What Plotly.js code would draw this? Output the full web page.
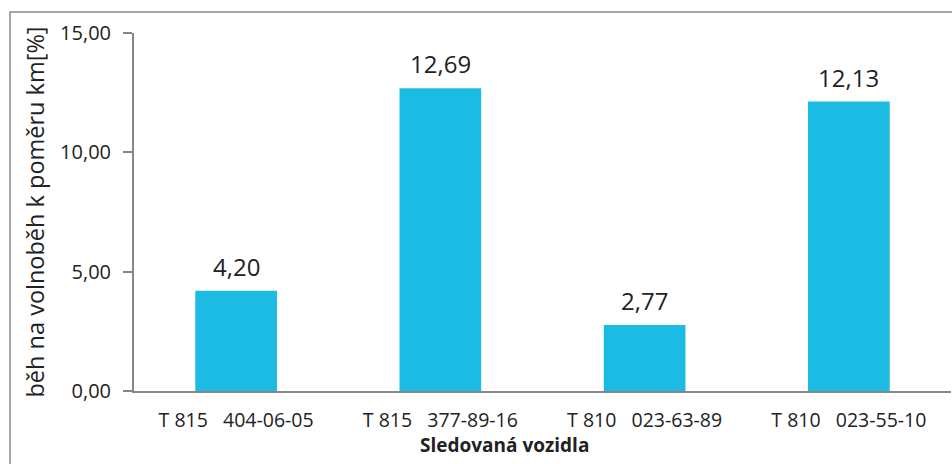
<!DOCTYPE html>
<html><head><meta charset="utf-8">
<script src="https://cdn.plot.ly/plotly-3.0.1.min.js"></script>
<style>html,body{margin:0;padding:0;background:#fff}#c{width:952px;height:464px}</style>
</head><body><div id="c"></div>
<script>
const categories = ["T\u00a0815\u00a0\u00a0\u00a0404-06-05", "T\u00a0815\u00a0\u00a0\u00a0377-89-16", "T\u00a0810\u00a0\u00a0\u00a0023-63-89", "T\u00a0810\u00a0\u00a0\u00a0023-55-10"];
const values = [4.20, 12.69, 2.77, 12.13];
const yTicks = [0, 5, 10, 15];

const trace = {
  type: 'bar', x: categories, y: values,
  marker: {color: '#1cbbe4'},
  hoverinfo: 'none'
};
const labelAnns = categories.map((c, i) => ({
  x: c, y: values[i], xref: 'x', yref: 'y',
  text: values[i].toFixed(2).replace('.', ','),
  showarrow: false, yanchor: 'bottom', xanchor: 'center', yshift: 6,
  font: {family: 'Open Sans', size: 24, color: '#222'}
}));
const layout = {
  width: 952, height: 464,
  margin: {l: 134, r: 1, t: 33, b: 73},
  separators: ',.',
  paper_bgcolor: '#fff', plot_bgcolor: '#fff',
  bargap: 0.6,
  showlegend: false,
  font: {family: 'Open Sans', color: '#222'},
  xaxis: {
    showline: true, linecolor: '#868686', linewidth: 2,
    ticks: '', tickfont: {size: 19.5, color: '#222'}, ticklabelstandoff: 11,
    fixedrange: true
  },
  yaxis: {
    range: [0, 15], tickvals: yTicks, tickformat: '.2f',
    showline: true, linecolor: '#868686', linewidth: 2,
    ticks: 'outside', ticklen: 9, tickcolor: '#868686', tickwidth: 2,
    showgrid: false, zeroline: false,
    tickfont: {size: 20, color: '#222'}, ticklabelstandoff: 8,
    title: {text: 'běh na volnoběh k poměru km[%]', font: {size: 23.5, color: '#222'}, standoff: 9}
  },
  shapes: [{type: 'rect', xref: 'paper', yref: 'paper', x0: -0.1518, x1: 1.2, y0: -0.4, y1: 1.0587,
    line: {color: '#8a8a8a', width: 1.5}, layer: 'below'}],
  annotations: labelAnns.concat([{text: '<b>Sledovaná vozidla</b>', xref: 'paper', yref: 'paper', x: 0.454, y: -0.152,
    xanchor: 'center', yanchor: 'middle', showarrow: false, font: {size: 19, color: '#222'}}])
};
Plotly.newPlot('c', [trace], layout, {staticPlot: true});
</script></body></html>
